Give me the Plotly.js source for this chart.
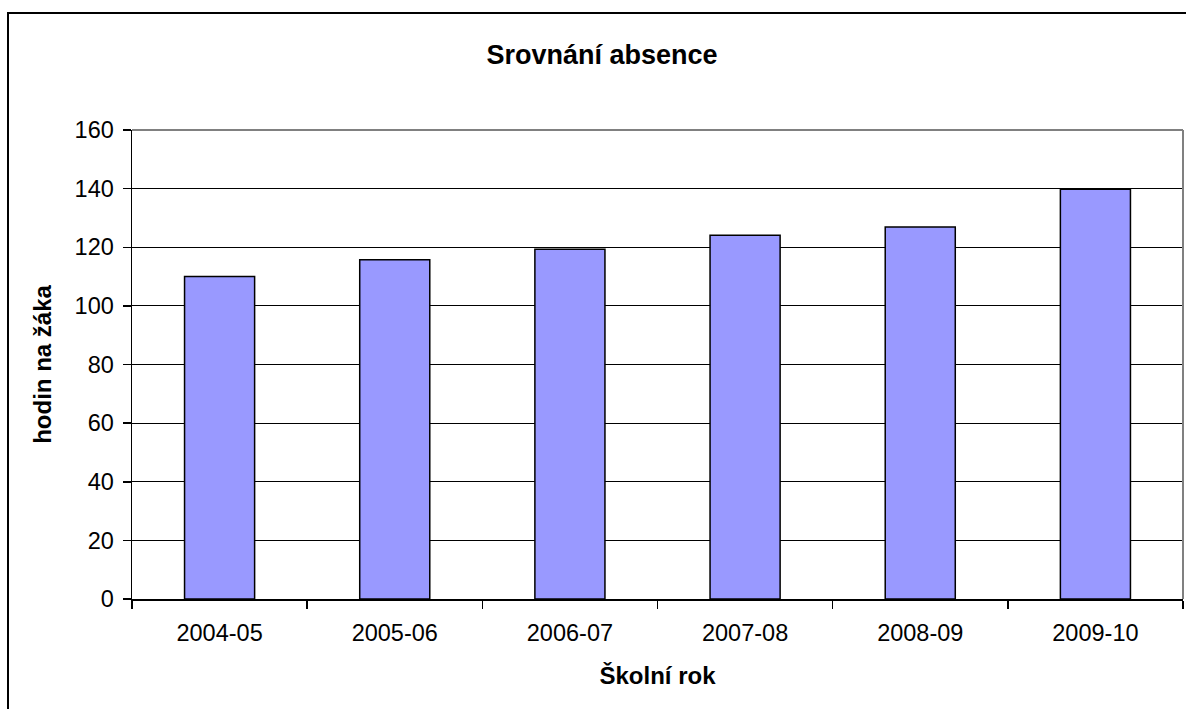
<!DOCTYPE html>
<html>
<head>
<meta charset="utf-8">
<script src="https://cdn.plot.ly/plotly-3.0.1.min.js"></script>
<style>
html,body{margin:0;padding:0;background:#fff;}
#chart{width:1186px;height:709px;}
</style>
</head>
<body>
<div id="chart"></div>
<script>
const categories = ["2004-05", "2005-06", "2006-07", "2007-08", "2008-09", "2009-10"];
const absence = [110, 115.7, 119.3, 124.1, 126.9, 139.8];
const yTicks = [0, 20, 40, 60, 80, 100, 120, 140, 160];

const chartTitle = "Srovnání absence";
const xTitle = "Školní rok";
const yTitle = "hodin na žáka";

const W = 1186, H = 709;
const mL = 132, mR = 3, mT = 130, mB = 110;
const pw = W - mL - mR, ph = H - mT - mB;
const px = v => (v - mL) / pw;
const py = v => (H - mB - v) / ph;

const font = "Liberation Sans, Arial, sans-serif";

const trace = {
  type: "bar",
  x: categories,
  y: absence,
  marker: {color: "#9999FF", line: {color: "#000000", width: 1.5}},
  hoverinfo: "x+y"
};

const layout = {
  width: W, height: H,
  margin: {l: mL, r: mR, t: mT, b: mB, pad: 0},
  paper_bgcolor: "#ffffff",
  plot_bgcolor: "#ffffff",
  font: {family: font, color: "#000", size: 24},
  showlegend: false,
  bargap: 0.6,
  title: {
    text: "<b>" + chartTitle + "</b>",
    font: {family: font, size: 27, color: "#000"},
    xref: "container", x: 602 / W, xanchor: "center",
    yref: "container", y: 1 - 55 / H, yanchor: "middle"
  },
  xaxis: {
    type: "category",
    tickson: "boundaries",
    ticks: "outside", ticklen: 8, tickcolor: "#000", tickwidth: 1.5,
    showline: true, linecolor: "#000", linewidth: 1.5,
    showgrid: false, zeroline: false,
    tickfont: {family: font, size: 23.5, color: "#000"},
    ticklabelstandoff: 12,
    title: {text: "<b>" + xTitle + "</b>", font: {family: font, size: 24, color: "#000"}, standoff: 22}
  },
  yaxis: {
    range: [0, 160],
    tickvals: yTicks,
    ticktext: yTicks.map(String),
    ticks: "outside", ticklen: 8, tickcolor: "#000", tickwidth: 1.5,
    showline: true, linecolor: "#000", linewidth: 1.5,
    showgrid: true, gridcolor: "#000", gridwidth: 1,
    zeroline: false,
    tickfont: {family: font, size: 23.5, color: "#000"},
    ticklabelstandoff: 4,
    title: {text: "<b>" + yTitle + "</b>", font: {family: font, size: 24, color: "#000"}, standoff: 16}
  },
  shapes: [
    {type: "line", xref: "paper", yref: "paper", x0: 0, x1: 1, y0: 1, y1: 1,
     line: {color: "#808080", width: 2}},
    {type: "line", xref: "paper", yref: "paper", x0: 1, x1: 1, y0: 0, y1: 1,
     line: {color: "#808080", width: 2}},
    {type: "rect", xref: "paper", yref: "paper",
     x0: px(8), x1: px(1200), y0: py(730), y1: py(13),
     line: {color: "#000", width: 2}, fillcolor: "rgba(0,0,0,0)"}
  ]
};

Plotly.newPlot("chart", [trace], layout, {displayModeBar: false, staticPlot: true});
</script>
</body>
</html>
